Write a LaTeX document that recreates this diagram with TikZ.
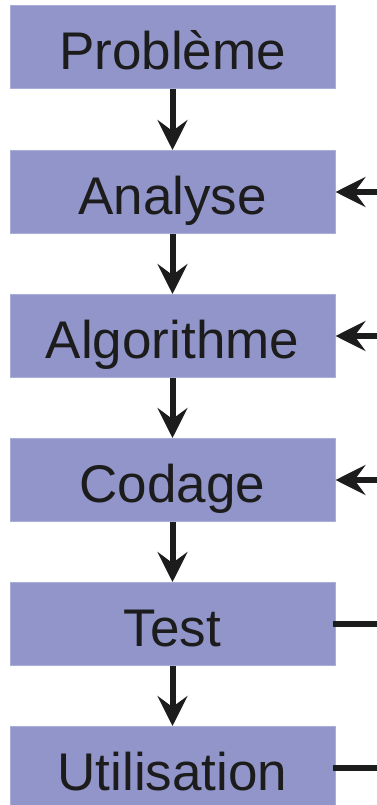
\documentclass[tikz,border=0pt]{standalone}
\usepackage{fontspec}
\setmainfont{Liberation Sans}
\usetikzlibrary{arrows.meta}
\definecolor{boxfill}{HTML}{9195C9}
\definecolor{boxline}{HTML}{AAACDA}
\definecolor{ink}{HTML}{1C1C1C}
\begin{document}
\begin{tikzpicture}[x=1pt,y=-1pt,
  stepbox/.style={draw=boxline, line width=1pt, fill=boxfill, minimum width=325pt, minimum height=83pt,
    inner sep=0pt, text height=44pt, text depth=0pt, font=\fontsize{53}{60}\selectfont, text=ink},
  flow/.style={draw=ink, line width=6pt, -{Stealth[length=30pt, width=30pt, inset=11pt]}},
  plain/.style={draw=ink, line width=6pt}]
\useasboundingbox (0,0) rectangle (376,805);
\node[stepbox] (p) at (172.5,47.5) {Problème};
\node[stepbox] (a) at (172.5,192) {Analyse};
\node[stepbox] (g) at (172.5,336) {Algorithme};
\node[stepbox] (c) at (172.5,480) {Codage};
\node[stepbox] (t) at (172.5,624) {Test};
\node[stepbox] (u) at (172.5,768) {Utilisation};
\coordinate (ra) at (380,192);
\coordinate (rg) at (380,336);
\coordinate (rc) at (380,480);
\coordinate (rt) at (380,624);
\coordinate (ru) at (380,768);
\draw[flow] (p.south) -- (a.north);
\draw[flow] (a.south) -- (g.north);
\draw[flow] (g.south) -- (c.north);
\draw[flow] (c.south) -- (t.north);
\draw[flow] (t.south) -- (u.north);
\draw[flow] (ra) -- (a.east);
\draw[flow] (rg) -- (g.east);
\draw[flow] (rc) -- (c.east);
\draw[plain] ([xshift=-3pt]t.east) -- (rt);
\draw[plain] ([xshift=-3pt]u.east) -- (ru);
\end{tikzpicture}
\end{document}
